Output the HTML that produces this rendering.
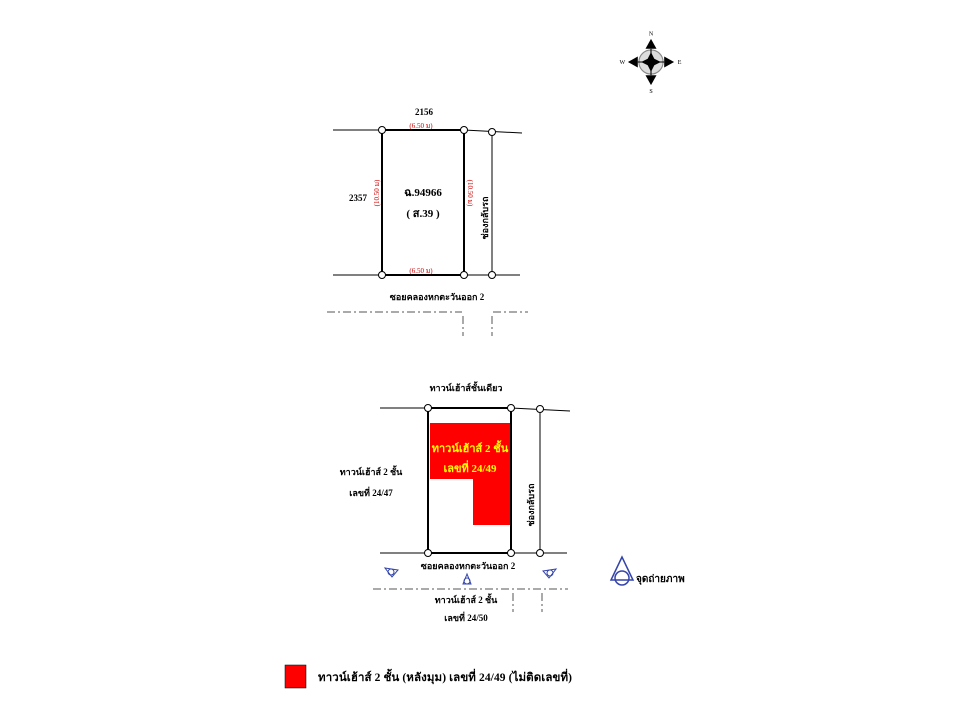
<!DOCTYPE html>
<html><head><meta charset="utf-8"><style>
html,body{margin:0;padding:0;background:#fff;}
svg{display:block;}
text{font-family:"Liberation Serif","Noto Serif CJK SC","Noto Sans CJK SC",serif;font-weight:bold;}
text.n{font-weight:normal !important;}
</style></head><body>
<svg width="960" height="720" viewBox="0 0 960 720" xmlns="http://www.w3.org/2000/svg">
<g transform="translate(651,62) scale(1.1)">
<circle r="11" fill="#ddd" stroke="#888" stroke-width="1"/>
<polygon points="0,-21 -5,-12 5,-12" fill="#000"/>
<polygon points="0,21 -5,12 5,12" fill="#000"/>
<polygon points="-21,0 -12,-5 -12,5" fill="#000"/>
<polygon points="21,0 12,-5 12,5" fill="#000"/>
<polygon points="0,-9 3,-3 9,0 3,3 0,9 -3,3 -9,0 -3,-3" fill="#000"/>
<line x1="0" y1="-12" x2="0" y2="12" stroke="#000"/>
<line x1="-12" y1="0" x2="12" y2="0" stroke="#000"/>
<text class="n" x="0" y="-24" font-size="5.5" text-anchor="middle">N</text>
<text class="n" x="0" y="28" font-size="5.5" text-anchor="middle">S</text>
<text class="n" x="-26" y="2" font-size="5.5" text-anchor="middle">W</text>
<text class="n" x="26" y="2" font-size="5.5" text-anchor="middle">E</text>
</g>

<g stroke="#000" fill="none">
<line x1="333" y1="130" x2="464" y2="130" stroke-width="1"/>
<line x1="464" y1="130" x2="522" y2="133" stroke-width="1"/>
<line x1="333" y1="275" x2="520" y2="275" stroke-width="1"/>
<line x1="382" y1="130" x2="464" y2="130" stroke-width="2"/>
<line x1="382" y1="275" x2="464" y2="275" stroke-width="2"/>
<line x1="382" y1="130" x2="382" y2="275" stroke-width="2"/>
<line x1="464" y1="130" x2="464" y2="275" stroke-width="2"/>
<line x1="492" y1="132" x2="492" y2="275" stroke-width="1"/>
<g stroke="#555" stroke-dasharray="8,3,2,3" stroke-width="1">
<line x1="327" y1="312" x2="462" y2="312"/>
<line x1="493" y1="312" x2="528" y2="312"/>
<line x1="463" y1="316" x2="463" y2="336"/>
<line x1="492" y1="316" x2="492" y2="336"/>
</g>
</g>
<g fill="#fff" stroke="#000" stroke-width="1">
<circle cx="382" cy="130" r="3.5"/><circle cx="464" cy="130" r="3.5"/><circle cx="492" cy="132" r="3.5"/>
<circle cx="382" cy="275" r="3.5"/><circle cx="464" cy="275" r="3.5"/><circle cx="492" cy="275" r="3.5"/>
</g>
<text x="424" y="115" font-size="9" text-anchor="middle">2156</text>
<text class="n" x="421" y="128" font-size="7" fill="#c00" text-anchor="middle">(6.50 ม)</text>
<text class="n" x="421" y="273" font-size="7" fill="#c00" text-anchor="middle">(6.50 ม)</text>
<text x="358" y="201" font-size="9" text-anchor="middle">2357</text>
<text class="n" transform="translate(379,193) rotate(-90)" font-size="7" fill="#c00" text-anchor="middle">(10.50 ม)</text>
<text class="n" transform="translate(468,193) rotate(90)" font-size="7" fill="#c00" text-anchor="middle">(10.50 ม)</text>
<text x="423" y="196" font-size="11" text-anchor="middle">ฉ.94966</text>
<text x="423" y="217" font-size="11" text-anchor="middle">( ส.39 )</text>
<text transform="translate(488,218) rotate(-90)" font-size="9" text-anchor="middle">ช่องกลับรถ</text>
<text x="437" y="300" font-size="9" text-anchor="middle">ซอยคลองหกตะวันออก 2</text>

<polygon points="430,423 511,423 511,525 473,525 473,479 430,479" fill="#f00"/>
<g stroke="#000" fill="none">
<line x1="380" y1="408" x2="511" y2="408" stroke-width="1"/>
<line x1="511" y1="408" x2="570" y2="411" stroke-width="1"/>
<line x1="380" y1="553" x2="567" y2="553" stroke-width="1"/>
<line x1="428" y1="408" x2="511" y2="408" stroke-width="2"/>
<line x1="428" y1="553" x2="511" y2="553" stroke-width="2"/>
<line x1="428" y1="408" x2="428" y2="553" stroke-width="2"/>
<line x1="511" y1="408" x2="511" y2="553" stroke-width="2"/>
<line x1="540" y1="409" x2="540" y2="553" stroke-width="1"/>
<g stroke="#555" stroke-dasharray="8,3,2,3" stroke-width="1">
<line x1="373" y1="589" x2="568" y2="589"/>
<line x1="513" y1="593" x2="513" y2="612"/>
<line x1="542" y1="593" x2="542" y2="612"/>
</g>
</g>
<g fill="#fff" stroke="#000" stroke-width="1">
<circle cx="428" cy="408" r="3.5"/><circle cx="511" cy="408" r="3.5"/><circle cx="540" cy="409" r="3.5"/>
<circle cx="428" cy="553" r="3.5"/><circle cx="511" cy="553" r="3.5"/><circle cx="540" cy="553" r="3.5"/>
</g>
<text x="466" y="391" font-size="9" text-anchor="middle">ทาวน์เฮ้าส์ชั้นเดียว</text>
<text x="470" y="452" font-size="11" fill="#ff0" text-anchor="middle">ทาวน์เฮ้าส์ 2 ชั้น</text>
<text x="470" y="472" font-size="11" fill="#ff0" text-anchor="middle">เลขที่ 24/49</text>
<text x="371" y="475" font-size="9" text-anchor="middle">ทาวน์เฮ้าส์ 2 ชั้น</text>
<text x="371" y="496" font-size="9" text-anchor="middle">เลขที่ 24/47</text>
<text transform="translate(534,505) rotate(-90)" font-size="9" text-anchor="middle">ช่องกลับรถ</text>
<text x="468" y="569" font-size="9" text-anchor="middle">ซอยคลองหกตะวันออก 2</text>
<text x="466" y="603" font-size="9" text-anchor="middle">ทาวน์เฮ้าส์ 2 ชั้น</text>
<text x="466" y="621" font-size="9" text-anchor="middle">เลขที่ 24/50</text>
<g stroke="#3344aa" fill="none" stroke-width="1">
<path d="M385,568 L398,570 L392,577 Z"/><circle cx="391" cy="572" r="3"/>
<path d="M467,574 L463,584 L471,584 Z"/><circle cx="467" cy="581" r="3"/>
<path d="M556,569 L543,571 L549,578 Z"/><circle cx="550" cy="573" r="3"/>
<path d="M622,557 L611,580 L633,580 Z" stroke-width="1.5"/><circle cx="622" cy="578" r="7" stroke-width="1.5"/>
</g>
<text x="636" y="582" font-size="10" text-anchor="start">จุดถ่ายภาพ</text>

<rect x="285" y="665" width="21" height="23" fill="#f00" stroke="#000" stroke-width="0.5"/>
<text x="318" y="681" font-size="11.5" text-anchor="start" textLength="254" lengthAdjust="spacing">ทาวน์เฮ้าส์ 2 ชั้น (หลังมุม)  เลขที่ 24/49   (ไม่ติดเลขที่)</text>
</svg>
</body></html>
